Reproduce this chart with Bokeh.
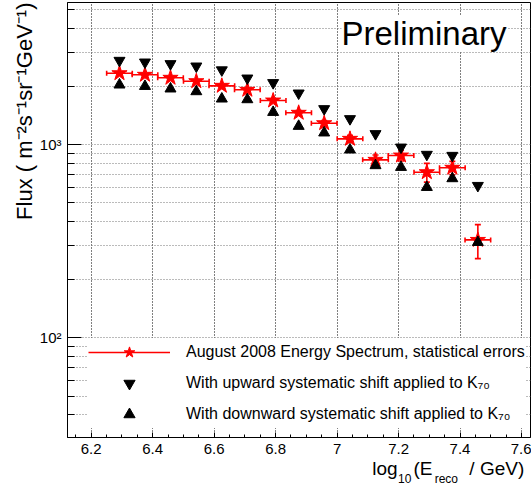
import math
from bokeh.plotting import figure
from bokeh.models import (ColumnDataSource, Range1d, FixedTicker, CustomJSTickFormatter,
                          Label, Legend, LegendItem, Title)
from bokeh.embed import file_html
from bokeh.resources import INLINE

# ---------------- data ----------------
log_energy = [6.292, 6.375, 6.458, 6.542, 6.625, 6.708, 6.792, 6.875,
              6.958, 7.042, 7.125, 7.208, 7.292, 7.375, 7.458]
bin_half_width = [0.0417, 0.0417, 0.0417, 0.0417, 0.0417, 0.0417, 0.0417, 0.0417,
                  0.0417, 0.0417, 0.0417, 0.0417, 0.0417, 0.0417, 0.0417]
flux = [2338, 2294, 2214, 2126, 2012, 1919, 1689, 1459, 1289, 1070, 833, 877, 719, 758, 321]
flux_err = [30, 30, 30, 32, 33, 35, 35, 38, 40, 45, 50, 55, 80, 60, 64]
flux_up = [2720, 2666, 2615, 2542, 2429, 2203, 2086, 1843, 1530, 1358, 1136, 968, 888, 877, 613]
flux_down = [2036, 2002, 1942, 1880, 1723, 1709, 1469, 1244, 1150, 939, 779, 763, 601, 667, 312]

x_ticks = [6.2, 6.4, 6.6, 6.8, 7.0, 7.2, 7.4, 7.6]
x_tick_labels = ["6.2", "6.4", "6.6", "6.8", "7", "7.2", "7.4", "7.6"]
x_minor_ticks = [6.15, 6.25, 6.3, 6.35, 6.45, 6.5, 6.55, 6.65, 6.7, 6.75, 6.85, 6.9, 6.95,
                 7.05, 7.1, 7.15, 7.25, 7.3, 7.35, 7.45, 7.5, 7.55]
y_ticks = [100, 1000]
y_tick_labels = ["10²", "10³"]
y_minor_ticks = [40, 50, 60, 70, 80, 90, 200, 300, 400, 500, 600, 700, 800, 900,
                 2000, 3000, 4000, 5000]

legend_labels = ["August 2008 Energy Spectrum, statistical errors",
                 "With upward systematic shift applied to K₇₀",
                 "With downward systematic shift applied to K₇₀"]
y_title = "Flux ( m⁻²s⁻¹sr⁻¹GeV⁻¹)"
NB = "\u00a0"
x_title_main = "log" + NB * 3 + "(E" + NB * 7 + "/ GeV)"
x_title_sub = "10" + NB * 7 + "reco"
watermark = "Preliminary"

X_RANGE = (6.1229, 7.6293)
Y_RANGE = (30.5, 5429.0)
FONT = "Liberation Sans"
RED = "#ff0000"

# ---------------- figure ----------------
p = figure(width=531, height=487, x_range=Range1d(*X_RANGE), y_range=Range1d(*Y_RANGE),
           y_axis_type="log", output_backend="svg", toolbar_location=None,
           min_border_left=67, min_border_right=1, min_border_top=2, min_border_bottom=50)
p.title.visible = False
p.background_fill_color = "white"
p.border_fill_color = "white"
p.outline_line_color = "black"
p.outline_line_width = 1

xt = FixedTicker(ticks=x_ticks, minor_ticks=x_minor_ticks)
yt = FixedTicker(ticks=y_ticks, minor_ticks=y_minor_ticks)
p.xaxis.ticker = xt
p.yaxis.ticker = yt
p.xgrid.ticker = xt
p.ygrid.ticker = yt

fmt_code = """
for (let i = 0; i < tvals.length; i++) {
  if (Math.abs(tvals[i] - tick) < 1e-6 * Math.max(1, Math.abs(tick))) return tlabels[i];
}
return "";
"""
p.xaxis.formatter = CustomJSTickFormatter(args=dict(tvals=x_ticks, tlabels=x_tick_labels), code=fmt_code)
p.yaxis.formatter = CustomJSTickFormatter(args=dict(tvals=y_ticks, tlabels=y_tick_labels), code=fmt_code)

for ax in (p.xaxis, p.yaxis):
    ax.axis_line_color = "black"
    ax.axis_line_width = 1
    ax.major_tick_line_color = "black"
    ax.minor_tick_line_color = "black"
    ax.major_tick_out = 0
    ax.minor_tick_out = 0
    ax.major_label_text_font = FONT
    ax.major_label_text_font_size = "15px"
    ax.major_label_text_color = "black"
p.xaxis.major_tick_in = 5
p.xaxis.minor_tick_in = 3
p.xaxis.major_label_standoff = 6
p.yaxis.major_tick_in = 14
p.yaxis.minor_tick_in = 7
p.yaxis.major_label_standoff = 6

p.xgrid.grid_line_color = "black"
p.xgrid.grid_line_dash = "1 2"
p.xgrid.grid_line_width = 1
p.ygrid.grid_line_color = "#777777"
p.ygrid.grid_line_dash = "1 2"
p.ygrid.grid_line_width = 1
p.ygrid.minor_grid_line_color = "#777777"
p.ygrid.minor_grid_line_dash = "1 2"
p.ygrid.minor_grid_line_width = 1

# ---------------- data marks ----------------
src = ColumnDataSource(dict(
    x=log_energy, y=flux,
    xl=[x - h for x, h in zip(log_energy, bin_half_width)],
    xr=[x + h for x, h in zip(log_energy, bin_half_width)],
    yl=[y - e for y, e in zip(flux, flux_err)],
    yh=[y + e for y, e in zip(flux, flux_err)],
))
xerr = p.segment(x0="xl", y0="y", x1="xr", y1="y", source=src, line_color=RED, line_width=1.6)
p.segment(x0="x", y0="yl", x1="x", y1="yh", source=src, line_color=RED, line_width=1.6)
p.scatter(x="xl", y="y", source=src, marker="dash", angle=math.pi / 2, size=5, line_color=RED, line_width=1.6)
p.scatter(x="xr", y="y", source=src, marker="dash", angle=math.pi / 2, size=5, line_color=RED, line_width=1.6)
p.scatter(x="x", y="yl", source=src, marker="dash", size=6, line_color=RED, line_width=1.6)
p.scatter(x="x", y="yh", source=src, marker="dash", size=6, line_color=RED, line_width=1.6)
stars = p.scatter(x="x", y="y", source=src, marker="star", size=16, fill_color=RED, line_color=RED)

up = p.scatter(x=log_energy, y=flux_up, marker="inverted_triangle", size=11,
               fill_color="black", line_color="black")
down = p.scatter(x=log_energy, y=flux_down, marker="triangle", size=11,
                 fill_color="black", line_color="black")

# ---------------- legend ----------------
legend = Legend(items=[LegendItem(label=legend_labels[0], renderers=[xerr, stars]),
                       LegendItem(label=legend_labels[1], renderers=[up]),
                       LegendItem(label=legend_labels[2], renderers=[down])],
                location=(21, 9), orientation="vertical",
                glyph_width=82, glyph_height=28, label_height=22, label_width=330,
                label_standoff=16, padding=8, spacing=3, margin=0,
                background_fill_color="white", background_fill_alpha=1.0,
                border_line_color=None,
                label_text_font=FONT, label_text_font_size="16px", label_text_color="black")
legend.level = "underlay"
p.add_layout(legend)

# ---------------- watermark inside the frame ----------------
p.add_layout(Label(x=X_RANGE[0], y=Y_RANGE[0], x_offset=341 - 67, y_offset=437 - 33,
                   text=watermark, text_font=FONT, text_font_size="33px", text_color="black",
                   text_baseline="alphabetic", background_fill_color="white"))

# ---------------- axis titles in the side panels ----------------
p.add_layout(Title(text=y_title, align="right", offset=0, standoff=0, vertical_align="bottom",
                   text_font=FONT, text_font_size="22px", text_font_style="normal",
                   text_color="black"), "left")
p.add_layout(Title(text=x_title_main, align="left", offset=371.7 - 67, standoff=-2,
                   vertical_align="bottom", text_font=FONT, text_font_size="19px",
                   text_font_style="normal", text_color="black"), "below")
p.add_layout(Title(text=x_title_sub, align="left", offset=397.5 - 67, standoff=-16,
                   vertical_align="bottom", text_font=FONT, text_font_size="12px",
                   text_font_style="normal", text_color="black"), "below")

open("out.html", "w").write(file_html(p, INLINE))
